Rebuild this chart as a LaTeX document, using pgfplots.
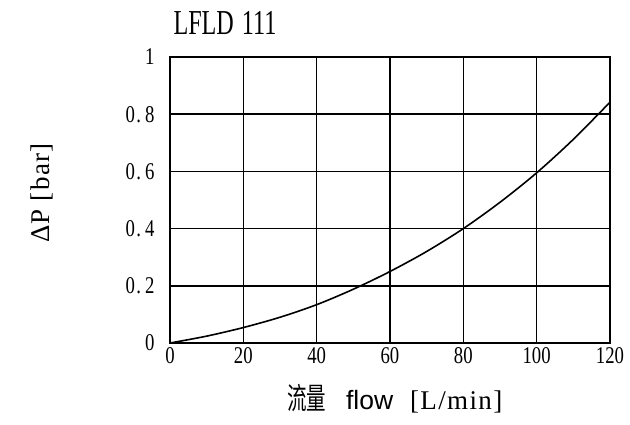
\documentclass[border=0pt]{standalone}
\usepackage{pgfplots}
\pgfplotsset{compat=1.18}
\usepackage{fontspec}
\setmainfont{Liberation Serif}
\newfontfamily\narrowfont{Liberation Serif}[FakeStretch=0.78]
\newfontfamily\titlefont{Liberation Serif}[FakeStretch=0.69]
\newfontfamily\spacedfont{Liberation Serif}[LetterSpace=5]
\newfontfamily\cjk{Noto Sans CJK SC}[FakeStretch=0.65]
\newfontfamily\sansfont{Liberation Sans}
\newcommand{\dd}[2]{#1\hspace{1.5pt}.\hspace{4pt}#2}
\begin{document}
\begin{tikzpicture}
\begin{axis}[
  width=440pt, height=286pt, scale only axis,
  xmin=0, xmax=120, ymin=0, ymax=1,
  xtick={0,20,40,60,80,100,120},
  ytick={0,0.2,0.4,0.6,0.8,1},
  yticklabels={0,\dd02,\dd04,\dd06,\dd08,1},
  grid=major,
  major grid style={black, line width=1.6pt},
  axis line style={black, line width=2pt},
  major tick length=0pt,
  /pgf/number format/assume math mode=true,
  tick label style={font=\narrowfont\fontsize{24}{24}\selectfont},
  xticklabel style={yshift=-1pt},
  yticklabel style={xshift=-12pt},
  title={LFLD\hspace{8pt}111},
  every axis title/.style={at={(axis description cs:0,1)}, anchor=base west, yshift=22pt, font=\titlefont\fontsize{35}{35}\selectfont},
  xlabel={{\cjk\fontsize{30}{30}\selectfont 流量}\hspace{20pt}{\sansfont\fontsize{26.5}{26.5}\selectfont flow}\hspace{17pt}{\spacedfont\fontsize{27}{27}\selectfont [L/min]}},
  every axis x label/.style={at={(axis description cs:0.258,-0.234)}, anchor=base west},
  ylabel={ΔP [bar]},
  every axis y label/.style={at={(axis description cs:-0.292,0.524)}, anchor=center, rotate=90, font=\spacedfont\fontsize{27}{27}\selectfont},
]
\addplot[black, line width=1.6pt, smooth] coordinates {
(0,0) (10,0.024) (20,0.054) (30,0.09) (40,0.134) (50,0.188) (60,0.25)
(70,0.32) (80,0.40) (90,0.492) (100,0.595) (110,0.712) (120,0.842)
};
\coordinate (O) at (rel axis cs:0,0);
\end{axis}
\pgfresetboundingbox
\path (O) ++(-170pt,-82pt) rectangle ++(630pt,425pt);
\end{tikzpicture}
\end{document}
